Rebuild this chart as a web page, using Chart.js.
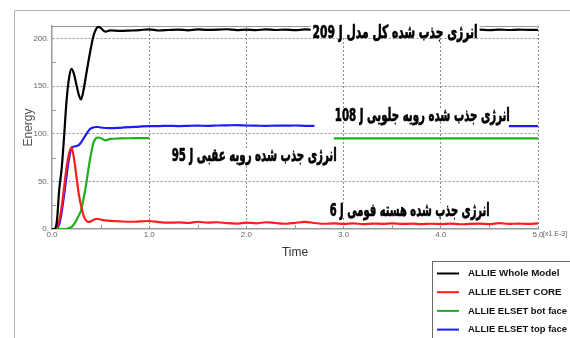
<!DOCTYPE html>
<html>
<head>
<meta charset="utf-8">
<script src="https://cdn.jsdelivr.net/npm/chart.js@4.4.1/dist/chart.umd.min.js"></script>
<style>
  html, body { margin: 0; padding: 0; background: #fff; }
  #wrap { position: relative; width: 570px; height: 338px; }
</style>
</head>
<body>
<div id="wrap"><canvas id="energyChart" width="570" height="338"></canvas></div>
<script>
// Time in units of 1e-3
const times = [
  0, 0.025, 0.05, 0.075, 0.1, 0.125, 0.15, 0.175, 0.2, 0.225, 0.25, 0.275, 0.3, 0.325, 0.35, 0.375,
  0.4, 0.425, 0.45, 0.475, 0.5, 0.55, 0.6,
  0.7, 0.8, 0.9, 1.0, 1.1, 1.2, 1.3, 1.4, 1.5, 1.6, 1.7, 1.8, 1.9, 2.0, 2.1, 2.2, 2.3, 2.4, 2.5,
  2.6, 2.7, 2.8, 2.9, 3.0, 3.1, 3.2, 3.3, 3.4, 3.5, 3.6, 3.7, 3.8, 3.9, 4.0, 4.1, 4.2, 4.3, 4.4,
  4.5, 4.6, 4.7, 4.8, 4.9, 5.0
];

const allieWhole = [
  0, 0, 8, 42, 64, 98, 135, 158, 168, 163, 152, 141, 136, 146, 161, 176, 190, 202, 209, 212, 211, 207, 208.5,
  207.8, 208.2, 208.7, 209.5, 208.3, 208.8, 209.2, 208.5, 209.4, 208.9, 209.1, 209.6, 208.7, 209.2, 208.6,
  209.5, 208.8, 209.3, 208.6, 209.4, 208.8, 209.2, 208.7, 209.3, 208.9, 209.4, 208.8, 209.2, 208.7, 209.3,
  208.9, 209.1, 208.6, 209.3, 208.8, 209.4, 208.9, 209.2, 208.7, 209.3, 208.8, 209.2, 208.9, 209
];

const allieCore = [
  0, 0, 2, 9, 24, 44, 65, 79, 86, 75, 56, 37, 24, 14, 9, 7.5, 8, 9.5, 10.5, 10.5, 10, 9, 8.5,
  8, 7.6, 7.9, 8.4, 7.2, 6.6, 6.9, 6.3, 7.6, 6.6, 7.1, 6.1, 5.6, 6.7, 6, 7.1, 6.3, 5.5, 6.5, 7.4, 6.3,
  5.5, 5.9, 5.3, 5.8, 5.2, 5.7, 5.4, 5.9, 5.3, 5.6, 5.1, 5.5, 5.2, 5.7, 5, 5.4, 5.6, 5.1, 6.2, 5.3,
  5.7, 5.3, 6
];

const allieBot = [
  0, 0, 0, 0, 0, 0, 0.3, 1, 2, 5, 9, 14, 20, 32, 46, 63, 78, 90, 95, 96, 95.5, 93, 94.5,
  95, 95.2, 95.3, 95.4,
  null, null, null, null, null, null, null, null, null, null, null, null, null, null, null, null, null, null,
  95, 95, 95, 95, 95, 95, 95, 95, 95, 95, 95, 95, 95, 95, 95, 95, 95, 95, 95, 95, 95, 95
];

const allieTop = [
  0, 0, 1, 5, 18, 36, 56, 74, 84.5, 86.5, 87, 88, 91, 95, 99, 103, 105.5, 106.5, 107, 107, 106.5, 106, 105.8,
  106.2, 106.8, 107.5, 108, 108, 108.3, 108, 108.2, 108.5, 108.2, 108.6, 108.8, 109, 108.6, 108.4, 108.2,
  108.5, 108.4, 108.6, 108.3, 108.3,
  null, null, null, null, null, null, null, null, null, null, null, null, null, null, null, null, null, null, null,
  108, 108, 108, 108
];

const seriesNames = ['ALLIE Whole Model', 'ALLIE ELSET CORE', 'ALLIE ELSET bot face', 'ALLIE ELSET top face'];
const seriesColors = ['#000000', '#ff1c1c', '#1fae1f', '#1c1cff'];
const xTicks = [0, 1, 2, 3, 4, 5];
const yTicks = [0, 50, 100, 150, 200];
const xMinor = [0.5, 1.5, 2.5, 3.5, 4.5];
const yMinor = [25, 75, 125, 175];

// callouts: phrase + final value of the series, placed in data coordinates
const notes = [
  { series: 0, phrase: 'انرژی جذب شده کل مدل', x: 3.53, y: 206.6, width: 165 },
  { series: 3, phrase: 'انرژی جذب شده رویه جلویی', x: 3.81, y: 119.6, width: 175 },
  { series: 2, phrase: 'انرژی جذب شده رویه عقبی', x: 2.08, y: 77.6, width: 165 },
  { series: 1, phrase: 'انرژی جذب شده هسته فومی', x: 3.68, y: 19.9, width: 160 },
];

const toPoints = (vals) => times.map((t, i) => ({ x: t, y: vals[i] }));
const lastValue = (arr) => arr.filter(v => v !== null).slice(-1)[0];

const GRID = '#8a8a8a';
const AXIS = '#9a9a9a';

// page frame + white background
const framePlugin = {
  id: 'frame',
  beforeDraw(chart) {
    const { ctx, width, height } = chart;
    ctx.save();
    ctx.fillStyle = '#fff';
    ctx.fillRect(0, 0, width, height);
    ctx.strokeStyle = '#b4b4b4';
    ctx.lineWidth = 1;
    ctx.beginPath();
    ctx.moveTo(14.5, height);
    ctx.lineTo(14.5, 10.5);
    ctx.lineTo(width, 10.5);
    ctx.stroke();
    ctx.restore();
  },
  beforeDatasetsDraw(chart) {
    const { ctx, chartArea: a, scales: { x, y } } = chart;
    ctx.save();
    ctx.strokeStyle = AXIS;
    ctx.lineWidth = 1.2;
    ctx.beginPath();
    ctx.moveTo(a.left, a.top + 0.5);
    ctx.lineTo(a.right, a.top + 0.5);
    ctx.stroke();
    // small inward ticks
    ctx.lineWidth = 1;
    ctx.beginPath();
    xMinor.forEach(v => {
      const px = Math.round(x.getPixelForValue(v)) + 0.5;
      ctx.moveTo(px, a.bottom);
      ctx.lineTo(px, a.bottom - 4);
    });
    yMinor.forEach(v => {
      const py = Math.round(y.getPixelForValue(v)) + 0.5;
      ctx.moveTo(a.left, py);
      ctx.lineTo(a.left + 4, py);
    });
    ctx.stroke();
    ctx.restore();
  },
  afterDatasetsDraw(chart) {
    const { ctx, scales: { x, y } } = chart;
    ctx.save();
    ctx.font = 'bold 18px "DejaVu Sans"';
    ctx.direction = 'ltr';
    ctx.textAlign = 'center';
    ctx.textBaseline = 'middle';
    ctx.lineJoin = 'round';
    notes.forEach(n => {
      const val = Math.round(lastValue(chart.data.datasets[n.series].data.map(p => p.y)));
      const text = `${val} J ${n.phrase}`;
      const cx = x.getPixelForValue(n.x);
      const cy = y.getPixelForValue(n.y);
      const w = Math.min(ctx.measureText(text).width, n.width);
      ctx.fillStyle = '#fff';
      ctx.fillRect(cx - w / 2 - 2, cy - 7, w + 4, 13);
      ctx.fillStyle = '#000';
      ctx.strokeStyle = '#000';
      ctx.lineWidth = 0.7;
      ctx.fillText(text, cx, cy + 1, n.width);
      ctx.strokeText(text, cx, cy + 1, n.width);
    });
    ctx.restore();
  },
  afterDraw(chart) {
    const { ctx, chartArea: a, data } = chart;
    ctx.save();
    // exponent note after the last x label
    ctx.font = '7px "Liberation Sans"';
    ctx.fillStyle = '#666';
    ctx.textAlign = 'left';
    ctx.textBaseline = 'top';
    ctx.fillText('[x1.E-3]', a.right + 5, a.bottom + 1.5);

    // legend box
    ctx.strokeStyle = '#6a6a6a';
    ctx.lineWidth = 1;
    ctx.fillStyle = '#fff';
    ctx.fillRect(432.5, 261.5, 150, 80);
    ctx.strokeRect(432.5, 261.5, 150, 80);
    ctx.font = 'bold 9.8px "Liberation Sans"';
    ctx.textBaseline = 'middle';
    data.datasets.forEach((ds, i) => {
      const ry = 273.5 + i * 18.7;
      ctx.strokeStyle = ds.borderColor;
      ctx.lineWidth = 2;
      ctx.beginPath();
      ctx.moveTo(437, ry);
      ctx.lineTo(459, ry);
      ctx.stroke();
      ctx.fillStyle = '#111';
      ctx.fillText(ds.label, 468, ry, 99);
    });
    ctx.restore();
  }
};

const seriesData = [allieWhole, allieCore, allieBot, allieTop];

new Chart(document.getElementById('energyChart'), {
  type: 'line',
  data: {
    datasets: seriesData.map((vals, i) => ({
      label: seriesNames[i],
      data: toPoints(vals),
      borderColor: seriesColors[i],
      backgroundColor: seriesColors[i],
      borderWidth: 2.2,
      pointRadius: 0,
      cubicInterpolationMode: 'monotone',
      spanGaps: false,
    })),
  },
  options: {
    responsive: false,
    devicePixelRatio: 1,
    animation: false,
    layout: { padding: { left: 14, top: 26, right: 32, bottom: 74 } },
    plugins: { legend: { display: false }, tooltip: { enabled: false } },
    scales: {
      x: {
        type: 'linear',
        min: 0,
        max: 5,
        afterBuildTicks: (s) => { s.ticks = xTicks.map(v => ({ value: v })); },
        afterFit: (s) => { s.height = 35; },
        ticks: {
          padding: 1,
          maxRotation: 0,
          color: '#666',
          font: { family: 'Liberation Sans', size: 8 },
          callback: (v) => Number(v).toFixed(1),
        },
        grid: {
          drawTicks: false,
          lineWidth: 1,
          color: (c) => (c.tick && c.tick.value > 0 ? GRID : 'transparent'),
        },
        border: { display: true, color: AXIS, width: 1.5, dash: [2, 2] },
        title: {
          display: true,
          text: 'Time',
          color: '#333',
          font: { family: 'Liberation Sans', size: 12 },
          padding: { top: 0, bottom: 4 },
        },
      },
      y: {
        min: 0,
        max: 213,
        afterBuildTicks: (s) => { s.ticks = yTicks.map(v => ({ value: v })); },
        afterFit: (s) => { s.width = 38; },
        ticks: {
          padding: 3,
          color: '#666',
          font: { family: 'Liberation Sans', size: 8 },
          callback: (v) => `${v}.`,
        },
        grid: {
          drawTicks: false,
          lineWidth: 1,
          color: (c) => (c.tick && c.tick.value > 0 ? GRID : 'transparent'),
        },
        border: { display: true, color: AXIS, width: 1.5, dash: [2, 2] },
        title: {
          display: true,
          text: 'Energy',
          color: '#555',
          font: { family: 'Liberation Sans', size: 12 },
          padding: { top: 7, bottom: 0 },
        },
      },
    },
  },
  plugins: [framePlugin],
});
</script>
</body>
</html>
